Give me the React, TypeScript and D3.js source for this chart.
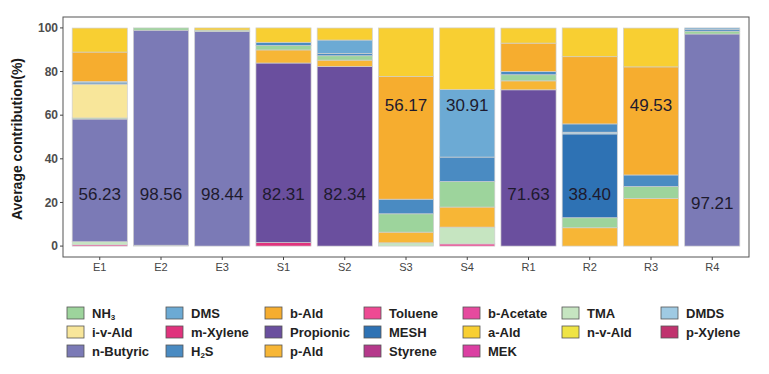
import { useEffect } from "react";
import * as d3 from "d3";

const samples = ["E1", "E2", "E3", "S1", "S2", "S3", "S4", "R1", "R2", "R3", "R4"];

// legend order (byrow, 7 columns)
const legendOrder = [
  "NH3", "DMS", "b-Ald", "Toluene", "b-Acetate", "TMA", "DMDS",
  "i-v-Ald", "m-Xylene", "Propionic", "MESH", "a-Ald", "n-v-Ald", "p-Xylene",
  "n-Butyric", "H2S", "p-Ald", "Styrene", "MEK",
];

// stacking order, bottom -> top
const stackOrder = [
  "Toluene", "b-Acetate", "m-Xylene", "MEK", "Styrene", "p-Xylene", "TMA",
  "Propionic", "n-Butyric", "p-Ald", "NH3", "MESH", "DMDS", "i-v-Ald",
  "H2S", "DMS", "b-Ald", "n-v-Ald", "a-Ald",
];

const colors: Record<string, string> = {
  NH3: "#9dd49c",
  DMS: "#6caad4",
  "b-Ald": "#f6ad2f",
  Toluene: "#ee4a93",
  "b-Acetate": "#e64a9e",
  TMA: "#c6e5c1",
  DMDS: "#9fcae3",
  "i-v-Ald": "#f8e69a",
  "m-Xylene": "#e0337d",
  Propionic: "#6a4f9e",
  MESH: "#2e72b4",
  "a-Ald": "#f8cf32",
  "n-v-Ald": "#efe445",
  "p-Xylene": "#c0336e",
  "n-Butyric": "#7b7ab6",
  H2S: "#4a8bc2",
  "p-Ald": "#f7b636",
  Styrene: "#b5398b",
  MEK: "#db3fa2",
};

//                E1     E2     E3     S1     S2     S3     S4     R1     R2     R3     R4
const nh3 =      [0.5,   1.04,  0.56,  2.0,   2.0,   8.4,   11.7,  2.8,   4.6,   5.4,   1.3];
const dms =      [0.6,   0,     0,     0,     6.1,   0,     30.91, 0,     0,     0,     0.59];
const bAld =     [13.5,  0,     0,     0,     0,     56.17, 0,     13.0,  30.8,  49.53, 0];
const toluene =  [0.6,   0,     0,     0,     0,     0,     1.0,   0,     0,     0,     0];
const bAcetate = [0,     0,     0,     0,     0,     0,     0,     0,     0,     0,     0];
const tma =      [1.4,   0.4,   0,     0,     0,     1.5,   7.7,   0,     0,     0,     0];
const dmds =     [0,     0,     0,     0,     0,     0,     0,     0,     0.8,   0,     0];
const ivAld =    [15.5,  0,     0,     0,     0,     0,     0,     0,     0,     0,     0];
const mXylene =  [0,     0,     0,     1.6,   0,     0,     0,     0,     0,     0,     0];
const propionic =[0,     0,     0,     82.31, 82.34, 0,     0,     71.63, 0,     0,     0];
const mesh =     [0,     0,     0,     0,     0,     0,     0,     0,     38.40, 0,     0];
const aAld =     [11.0,  0,     1.0,   6.6,   5.5,   22.3,  28.3,  6.9,   13.2,  17.8,  0];
const nvAld =    [0,     0,     0,     0,     0,     0,     0,     0,     0,     0,     0];
const pXylene =  [0,     0,     0,     0,     0,     0,     0,     0,     0,     0,     0];
const nButyric = [56.23, 98.56, 98.44, 0,     0,     0,     0,     0,     0,     0,     97.21];
const h2s =      [0.6,   0,     0,     1.5,   1.1,   6.7,   11.2,  1.5,   3.8,   5.3,   0.9];
const pAld =     [0,     0,     0,     6.0,   2.9,   4.9,   9.2,   4.1,   8.4,   21.9,  0];
const styrene =  [0,     0,     0,     0,     0,     0,     0,     0,     0,     0,     0];
const mek =      [0,     0,     0,     0,     0,     0,     0,     0,     0,     0,     0];

const values: Record<string, number[]> = {
  NH3: nh3, DMS: dms, "b-Ald": bAld, Toluene: toluene, "b-Acetate": bAcetate,
  TMA: tma, DMDS: dmds, "i-v-Ald": ivAld, "m-Xylene": mXylene, Propionic: propionic,
  MESH: mesh, "a-Ald": aAld, "n-v-Ald": nvAld, "p-Xylene": pXylene,
  "n-Butyric": nButyric, H2S: h2s, "p-Ald": pAld, Styrene: styrene, MEK: mek,
};

// annotation labels and their y positions (data units)
const labelText = ["56.23", "98.56", "98.44", "82.31", "82.34", "56.17", "30.91", "71.63", "38.40", "49.53", "97.21"];
const labelY =    [24,      24,      24,      24,      24,      64.5,    64.5,    24,      24,      64.5,    19.5];

const yTicks = [0, 20, 40, 60, 80, 100];

const W = 769;
const H = 374;
const panel = { left: 63, right: 749, top: 17, bottom: 257 };

function subLabel(name: string) {
  if (name === "NH3") return { base: "NH", sub: "3", rest: "" };
  if (name === "H2S") return { base: "H", sub: "2", rest: "S" };
  return null;
}

export default function App() {
  useEffect(() => {
    document.body.style.margin = "0";
  }, []);

  const step = (panel.right - panel.left) / (samples.length + 0.2);
  const x = d3
    .scaleBand<string>()
    .domain(samples)
    .range([panel.left + 0.6 * step - step / 2, panel.right - 0.6 * step + step / 2])
    .paddingInner(0.1)
    .paddingOuter(0.05);
  const y = d3.scaleLinear().domain([-5, 105]).range([panel.bottom, panel.top]);

  const rows = samples.map((s, i) => {
    const r: Record<string, number | string> = { sample: s };
    stackOrder.forEach(k => (r[k] = values[k][i]));
    return r;
  });
  const stacked = d3.stack<Record<string, number | string>>().keys(stackOrder)(rows as any);

  const legX = d3.scaleLinear().domain([0, 6]).range([67, 661]);
  const legY = d3.scaleLinear().domain([0, 2]).range([313, 351]);

  const font = "'Liberation Sans', Arial, sans-serif";

  return (
    <svg width={W} height={H} style={{ display: "block", background: "#fff" }} fontFamily={font}>
      {/* bars */}
      {stacked.map(layer => (
        <g key={layer.key} fill={colors[layer.key]}>
          {layer.map((d, i) =>
            d[1] - d[0] > 0 ? (
              <rect
                key={i}
                x={x(samples[i])!}
                width={x.bandwidth()}
                y={y(d[1])}
                height={y(d[0]) - y(d[1])}
                stroke="#cfcfcf"
                strokeWidth={0.7}
              />
            ) : null
          )}
        </g>
      ))}

      {/* value labels */}
      {samples.map((s, i) => (
        <text
          key={s}
          x={x(s)! + x.bandwidth() / 2}
          y={y(labelY[i])}
          dy="0.35em"
          textAnchor="middle"
          fontSize={17}
          fill="#1e1a2e"
        >
          {labelText[i]}
        </text>
      ))}

      {/* panel border */}
      <rect
        x={panel.left}
        y={panel.top}
        width={panel.right - panel.left}
        height={panel.bottom - panel.top}
        fill="none"
        stroke="#555"
        strokeWidth={1}
      />

      {/* y axis */}
      {yTicks.map(t => (
        <g key={t}>
          <line x1={panel.left - 3} x2={panel.left} y1={y(t)} y2={y(t)} stroke="#444" />
          <text x={panel.left - 5} y={y(t)} dy="0.35em" textAnchor="end" fontSize={12} fontWeight="bold" fill="#4d4d4d">
            {t}
          </text>
        </g>
      ))}
      <text
        transform={`translate(22,${(panel.top + panel.bottom) / 2 + 2}) rotate(-90)`}
        textAnchor="middle"
        fontSize={14}
        fontWeight="bold"
        fill="#1a1a1a"
      >
        Average contribution(%)
      </text>

      {/* x axis */}
      {samples.map(s => (
        <g key={s}>
          <line
            x1={x(s)! + x.bandwidth() / 2}
            x2={x(s)! + x.bandwidth() / 2}
            y1={panel.bottom}
            y2={panel.bottom + 3}
            stroke="#444"
          />
          <text x={x(s)! + x.bandwidth() / 2} y={panel.bottom + 14} textAnchor="middle" fontSize={11} fill="#444">
            {s}
          </text>
        </g>
      ))}

      {/* legend */}
      {legendOrder.map((name, i) => {
        const col = i % 7;
        const row = Math.floor(i / 7);
        const lx = legX(col);
        const ly = legY(row);
        const sl = subLabel(name);
        return (
          <g key={name}>
            <rect x={lx} y={ly - 6} width={17} height={12} fill={colors[name]} stroke="#555" strokeWidth={0.8} />
            <text x={lx + 25} y={ly} dy="0.36em" fontSize={13} fontWeight="bold" fill="#222">
              {sl ? (
                <>
                  {sl.base}
                  <tspan fontSize={8} dy="2">{sl.sub}</tspan>
                  {sl.rest ? <tspan dy="-2">{sl.rest}</tspan> : null}
                </>
              ) : (
                name
              )}
            </text>
          </g>
        );
      })}
    </svg>
  );
}
